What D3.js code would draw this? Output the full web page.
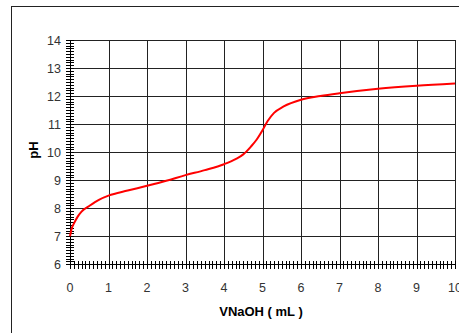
<!DOCTYPE html>
<html>
<head>
<meta charset="utf-8">
<script src="https://cdn.jsdelivr.net/npm/d3@7"></script>
<style>
  body { margin: 0; background: #fff; }
  svg { display: block; font-family: Arial, "Liberation Sans", sans-serif; }
</style>
</head>
<body>
<div id="chart"></div>
<script>
// titration curve
const volume = [0, 0.05, 0.1, 0.2, 0.3, 0.5, 0.75, 1, 1.5, 2, 2.5, 3, 3.5, 4, 4.3, 4.5, 4.7, 4.85, 5, 5.13, 5.3, 5.55, 6, 6.5, 7, 8, 9, 10];
const pH     = [7.0, 7.3, 7.45, 7.7, 7.88, 8.08, 8.3, 8.45, 8.63, 8.8, 8.98, 9.18, 9.36, 9.57, 9.75, 9.92, 10.2, 10.45, 10.78, 11.1, 11.4, 11.63, 11.87, 12.0, 12.1, 12.26, 12.37, 12.45];
const xTicks = [0, 1, 2, 3, 4, 5, 6, 7, 8, 9, 10];
const yTicks = [6, 7, 8, 9, 10, 11, 12, 13, 14];

const width = 459, height = 333;

const svg = d3.select('#chart').append('svg')
  .attr('width', width)
  .attr('height', height);

// outer frame, cut off by the window on the right and bottom
svg.append('rect')
  .attr('x', 11.5).attr('y', 6.5)
  .attr('width', 460).attr('height', 340)
  .attr('fill', 'none')
  .attr('stroke', '#222')
  .attr('stroke-width', 1);

const x = d3.scaleLinear().domain([0, 10]).range([70, 455]);
const y = d3.scaleLinear().domain([6, 14]).range([264.3, 40]);

const grid = svg.append('g').attr('stroke', '#222').attr('stroke-width', 1).attr('shape-rendering', 'crispEdges');

grid.selectAll('.vl')
  .data(xTicks.slice(1))
  .enter()
  .append('line')
  .attr('x1', d => Math.round(x(d)) + 0.5).attr('x2', d => Math.round(x(d)) + 0.5)
  .attr('y1', y(14)).attr('y2', y(6));

grid.selectAll('.hl')
  .data(yTicks.slice(1))
  .enter()
  .append('line')
  .attr('x1', x(0)).attr('x2', x(10))
  .attr('y1', d => Math.round(y(d)) + 0.5).attr('y2', d => Math.round(y(d)) + 0.5);

// axes with crossing minor ticks
const yAxis = svg.append('g').attr('shape-rendering', 'crispEdges');
yAxis.append('line')
  .attr('x1', Math.round(x(0)) + 0.5).attr('x2', Math.round(x(0)) + 0.5)
  .attr('y1', y(14)).attr('y2', y(6))
  .attr('stroke', '#000');
yAxis.selectAll('.ym')
  .data(d3.range(60, 141).map(v => v / 10))
  .enter()
  .append('line')
  .attr('x1', x(0) - 4).attr('x2', x(0) + 4)
  .attr('y1', d => Math.round(y(d)) + 0.5).attr('y2', d => Math.round(y(d)) + 0.5)
  .attr('stroke', '#000');

const xAxis = svg.append('g').attr('shape-rendering', 'crispEdges');
xAxis.append('line')
  .attr('x1', x(0)).attr('x2', x(10))
  .attr('y1', Math.round(y(6)) + 0.5).attr('y2', Math.round(y(6)) + 0.5)
  .attr('stroke', '#000');
xAxis.selectAll('.xm')
  .data(d3.range(0, 101).map(v => v / 10))
  .enter()
  .append('line')
  .attr('x1', d => Math.round(x(d)) + 0.5).attr('x2', d => Math.round(x(d)) + 0.5)
  .attr('y1', y(6) - 3).attr('y2', y(6) + 5)
  .attr('stroke', '#000');

// tick labels
svg.selectAll('.ylab')
  .data(yTicks)
  .enter()
  .append('text')
  .attr('x', 61)
  .attr('y', d => y(d) + 4.5)
  .attr('text-anchor', 'end')
  .attr('font-size', 12.5)
  .attr('fill', '#333')
  .text(d => d);

svg.selectAll('.xlab')
  .data(xTicks)
  .enter()
  .append('text')
  .attr('x', d => x(d))
  .attr('y', 292)
  .attr('text-anchor', 'middle')
  .attr('font-size', 12.5)
  .attr('fill', '#333')
  .text(d => d);

// axis titles
svg.append('text')
  .attr('transform', 'translate(38,150) rotate(-90)')
  .attr('text-anchor', 'middle')
  .attr('font-size', 13)
  .attr('font-weight', 'bold')
  .text('pH');

svg.append('text')
  .attr('x', 261)
  .attr('y', 316)
  .attr('text-anchor', 'middle')
  .attr('font-size', 13)
  .attr('font-weight', 'bold')
  .text('VNaOH ( mL )');

// curve
const line = d3.line()
  .x((d, i) => x(volume[i]))
  .y(d => y(d))
  .curve(d3.curveMonotoneX);

svg.append('path')
  .datum(pH)
  .attr('d', line)
  .attr('fill', 'none')
  .attr('stroke', '#ff0000')
  .attr('stroke-width', 2);
</script>
</body>
</html>
